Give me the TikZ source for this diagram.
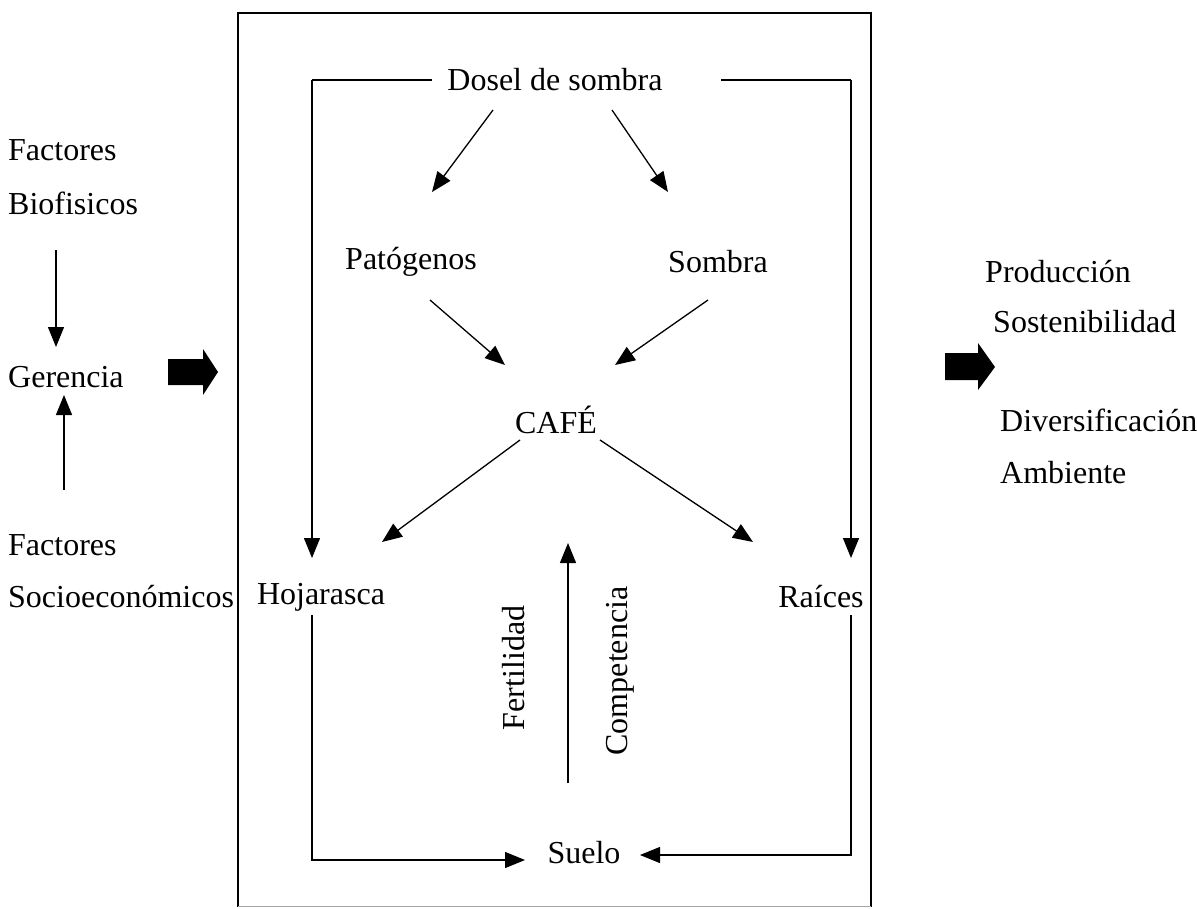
\documentclass[tikz,border=0pt]{standalone}
\usepackage{fontspec}
\setmainfont{Liberation Serif}
\usetikzlibrary{arrows.meta,calc}
\begin{document}
\begin{tikzpicture}[x=1pt,y=-1pt,
  every node/.style={font=\fontsize{32}{38}\selectfont, inner sep=0pt},
  con/.style={line width=1.3pt,-{Triangle[length=20pt,width=16pt]}},
  ln/.style={line width=1.3pt},
  block/.style={fill=black}]
\useasboundingbox (0,0) rectangle (1197,908);
\fill[white] (0,0) rectangle (1197,908);
% frame
\draw[line width=1.3pt] (238,907) -- (238,13) -- (871,13) -- (871,907);
\draw[line width=1pt, black!35] (238,906) -- (871,906);
% nodes in frame
\node (dosel) at (555,80) {Dosel de sombra};
\node (pat) at (411,262) {Patógenos};
\node (somb) at (718,262) {Sombra};
\node (cafe) at (556,420) {CAFÉ};
\node (hoj) at (321,597) {Hojarasca};
\node (rai) at (821,597) {Raíces};
\node (suelo) at (584,853) {Suelo};
\node[rotate=90] (fert) at (514,668) {Fertilidad};
\node[rotate=90] (comp) at (620,671) {Competencia};
% left side
\node[anchor=west] (fac1) at (8,150) {Factores};
\node[anchor=west] (bio) at (8,203) {Biofisicos};
\node[anchor=west] (ger) at (8,377) {Gerencia};
\node[anchor=west] (fac2) at (8,545) {Factores};
\node[anchor=west] (socio) at (8,597) {Socioeconómicos};
% right side
\node[anchor=west] (prod) at (985,272) {Producción};
\node[anchor=west] (sost) at (993,322) {Sostenibilidad};
\node[anchor=west] (div) at (1000,420) {Diversificación};
\node[anchor=west] (amb) at (1000,473) {Ambiente};
% connectors
\coordinate (lb) at ($(dosel)+(-243,0)$);
\coordinate (rb) at ($(dosel)+(296,0)$);
\draw[con] ($(dosel)+(-62,30)$) -- ($(pat)+(21,-70)$);
\draw[con] ($(dosel)+(57,30)$) -- ($(somb)+(-50,-70)$);
\draw[con] ($(pat)+(19,38)$) -- ($(cafe)+(-51,-55)$);
\draw[con] ($(somb)+(-10,38)$) -- ($(cafe)+(59,-55)$);
\draw[con] ($(cafe)+(-36,20)$) -- ($(hoj)+(61,-55)$);
\draw[con] ($(cafe)+(44,20)$) -- ($(rai)+(-68,-55)$);
\draw[con] (lb) -- ($(lb)+(0,478)$);
\draw[ln] (lb) -- ($(dosel.west)+(-15,0)$);
\draw[con] (rb) -- ($(rb)+(0,478)$);
\draw[ln] (rb) -- ($(dosel.east)+(58,0)$);
\coordinate (hb) at ($(lb)+(0,535)$);
\coordinate (rbb) at ($(rb)+(0,535)$);
\draw[con] (hb) |- ($(suelo)+(-59,7)$);
\draw[con] (rbb) |- ($(suelo)+(56,2)$);
\draw[con] ($(suelo)+(-16,-70)$) -- ($(cafe)+(12,123)$);
\draw[con] ($(ger.west)+(48,-127)$) -- ($(ger.west)+(48,-30)$);
\draw[con] ($(ger.west)+(56,113)$) -- ($(ger.west)+(56,18)$);
% block arrows
\fill[block] (168,359) -- (203,359) -- (203,349) -- (218,372) -- (203,395) -- (203,385) -- (168,385) -- cycle;
\fill[block] (945,353) -- (978,353) -- (978,343) -- (995,367) -- (978,390) -- (978,380) -- (945,380) -- cycle;
\end{tikzpicture}
\end{document}
